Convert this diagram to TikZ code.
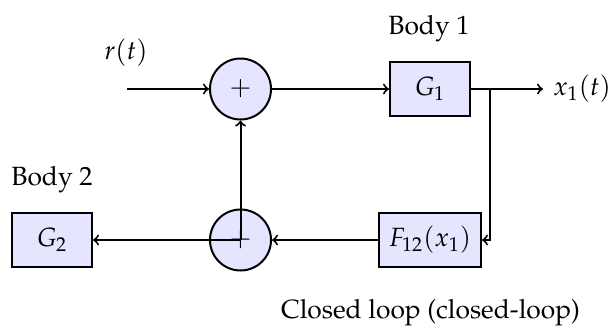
\documentclass[tikz,border=0pt]{standalone}
\usepackage[T1]{fontenc}
\usepackage{mathpazo}
\begin{document}
\begin{tikzpicture}[x=0.5pt,y=-0.5pt,
  every node/.style={font=\fontsize{13.2}{16}\selectfont},
  blockbox/.style={draw, fill=blue!10, line width=1pt, minimum height=27pt, inner sep=0pt},
  sumnode/.style={draw, circle, fill=blue!10, line width=1pt, minimum size=30.5pt, inner sep=0pt},
  conn/.style={->, line width=1pt},
  lbl/.style={inner sep=0pt}]
\useasboundingbox (0,0) rectangle (610,327);
\node[sumnode] (s1) at (240.5,89) {$+$};
\node[sumnode] (s2) at (240.5,240) {$+$};
\node[blockbox, minimum width=40pt] (g1) at (430,89) {$G_1$};
\node[blockbox, minimum width=51pt] (f12) at (430,240) {$F_{12}(x_1)$};
\node[blockbox, minimum width=40pt] (g2) at (52,240) {$G_2$};
\coordinate (in) at (127,89);
\coordinate (br) at (490,89);
\node[lbl] (r) at (126,53) {$r(t)$};
\node[lbl, anchor=west, inner xsep=5pt] (x1) at (543,89) {$x_1(t)$};
\node[lbl, anchor=base] (b1) at (429,34) {Body 1};
\node[lbl, anchor=base] (b2) at (52,185) {Body 2};
\node[lbl, anchor=base] (cl) at (430.5,318) {Closed loop (closed-loop)};
\draw[conn] (in) -- (s1);
\draw[conn] (s1) -- (g1);
\draw[conn] (g1) -- (x1);
\draw[conn] (br) |- (f12);
\draw[conn] (f12) -- (s2);
\draw[conn] (s2.center) -- (g2);
\draw[conn] (s2.center) -- (s1);
\end{tikzpicture}
\end{document}
